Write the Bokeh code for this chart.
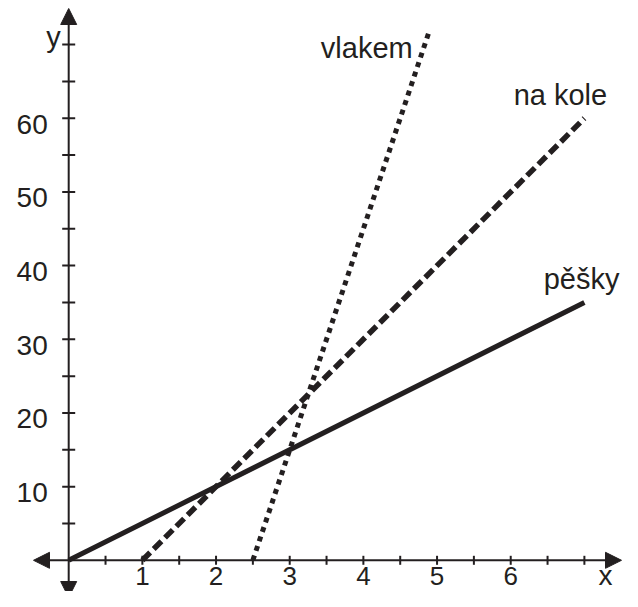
import numpy as np
from bokeh.plotting import figure
from bokeh.models import Range1d, Arrow, NormalHead
from bokeh.core.properties import value
from bokeh.embed import file_html
from bokeh.resources import INLINE

# ---- data ----
walk_x = [0, 7]
walk_y = [0, 35]
bike_x = [1, 7]
bike_y = [0, 60]
train_x = [2.5, 4.9]
train_y = [0, 72]

x_ticks = [0.5, 1, 1.5, 2, 2.5, 3, 3.5, 4, 4.5, 5, 5.5, 6, 6.5, 7]
y_ticks = [5, 10, 15, 20, 25, 30, 35, 40, 45, 50, 55, 60, 65, 70]
x_label_vals = [1, 2, 3, 4, 5, 6]
y_label_vals = [10, 20, 30, 40, 50, 60]

walk_name = "pěšky"
bike_name = "na kole"
train_name = "vlakem"

INK = "#231f20"
FONT = value("Liberation Sans")

W, H = 622, 591
x0_px, xs = 68.2, 73.67      # canvas px of x=0, px per unit
y0_px, ys = 559.8, 7.367     # canvas px of y=0, px per unit

p = figure(width=W, height=H, output_backend="svg", toolbar_location=None,
           x_range=Range1d(-x0_px / xs, (W - x0_px) / xs),
           y_range=Range1d(-(H - y0_px) / ys, y0_px / ys),
           min_border=0)
p.axis.visible = False
p.grid.visible = False
p.outline_line_color = None
p.background_fill_color = "white"
p.border_fill_color = "white"

# ---- axes with arrows ----
def px2x(px):
    return (px - x0_px) / xs

def px2y(py):
    return (y0_px - py) / ys

head = dict(size=16, fill_color=INK, line_color=INK, line_width=1)
p.add_layout(Arrow(x_start=px2x(33), y_start=0, x_end=px2x(621), y_end=0,
                   start=NormalHead(**head), end=NormalHead(**head),
                   line_color=INK, line_width=2))
p.add_layout(Arrow(x_start=0, y_start=px2y(597), x_end=0, y_end=px2y(8),
                   start=NormalHead(**head), end=NormalHead(**head),
                   line_color=INK, line_width=2))

# ticks
p.scatter(x=x_ticks, y=[0] * len(x_ticks), marker="dash", angle=np.pi / 2,
          size=9, line_color=INK, line_width=2)
p.scatter(x=[0] * len(y_ticks), y=y_ticks, marker="dash",
          size=13, line_color=INK, line_width=2)

# tick labels
p.text(x=x_label_vals, y=[0] * len(x_label_vals), text=[str(v) for v in x_label_vals],
       text_font=FONT, text_font_size="26px", text_color=INK,
       text_align="center", text_baseline="alphabetic", y_offset=16)
p.text(x=[0] * len(y_label_vals), y=y_label_vals, text=[str(v) for v in y_label_vals],
       text_font=FONT, text_font_size="28px", text_color=INK,
       text_align="right", text_baseline="alphabetic", x_offset=-21, y_offset=6)

# axis names
p.text(x=[x_ticks[-1]], y=[0], text=["x"], text_font=FONT, text_font_size="28px",
       text_color=INK, text_align="center", text_baseline="alphabetic",
       x_offset=21, y_offset=15)
p.text(x=[0], y=[y_ticks[-1]], text=["y"], text_font=FONT, text_font_size="29px",
       text_color=INK, text_align="right", text_baseline="alphabetic",
       x_offset=-8, y_offset=-8)

# ---- series ----
p.line(walk_x, walk_y, line_color=INK, line_width=5)
p.line(bike_x, bike_y, line_color=INK, line_width=5.5, line_dash="11 5",
       line_cap="butt")
p.line(train_x, train_y, line_color=INK, line_width=5, line_dash="5 5",
       line_cap="butt")

# series labels anchored at line ends
p.text(x=[train_x[-1]], y=[train_y[-1]], text=[train_name], text_font=FONT,
       text_font_size="29px", text_color=INK, text_align="right",
       text_baseline="alphabetic", x_offset=-17, y_offset=18)
p.text(x=[bike_x[-1]], y=[bike_y[-1]], text=[bike_name], text_font=FONT,
       text_font_size="29px", text_color=INK, text_align="center",
       text_baseline="alphabetic", x_offset=-24, y_offset=-23)
p.text(x=[walk_x[-1]], y=[walk_y[-1]], text=[walk_name], text_font=FONT,
       text_font_size="29px", text_color=INK, text_align="right",
       text_baseline="alphabetic", x_offset=35, y_offset=-23)

open("out.html", "w").write(file_html(p, INLINE))
